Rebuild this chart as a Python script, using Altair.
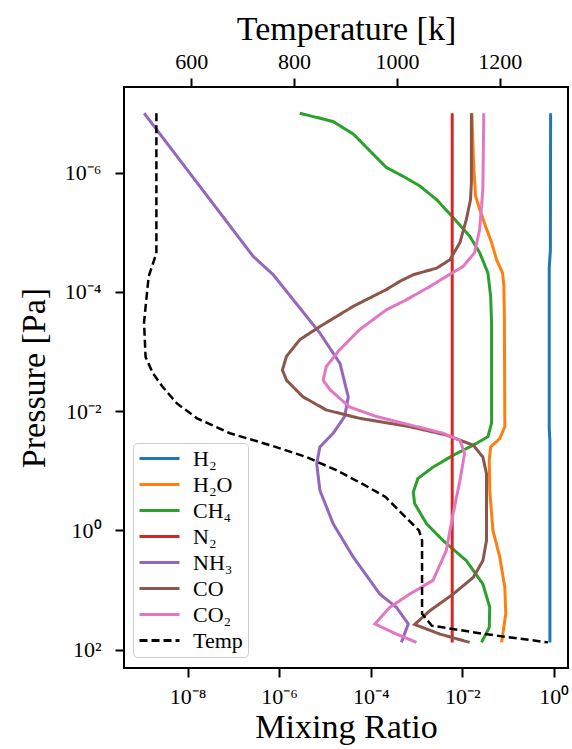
import altair as alt
import pandas as pd

# Each profile is stored as log10(pressure / Pa) with log10(mixing ratio),
# or with temperature in K for the thermal profile.
h2_logp = [-7.0, -4.7, -4.4, -1.7, -1.5, 1.88]
h2_logx = [-0.07, -0.075, -0.10, -0.10, -0.085, -0.085]

h2o_logp = [-7.0, -6.11, -5.61, -5.39, -5.10, -4.83, -4.54, -4.32, -4.09, -3.53,
            -1.74, -1.54, -1.40, -1.18, -0.67, 0.0, 0.45, 0.96, 1.40, 1.88]
h2o_logx = [-1.79, -1.75, -1.71, -1.62, -1.49, -1.36, -1.25, -1.12, -1.09, -1.08,
            -1.07, -1.18, -1.38, -1.41, -1.40, -1.33, -1.18, -1.07, -1.05, -1.14]

ch4_logp = [-7.0, -6.86, -6.65, -6.09, -5.94, -5.78, -5.55, -5.25, -4.94, -4.66,
            -4.32, -3.93, -3.48, -1.80, -1.57, -1.43, -1.26, -1.06, -0.87, -0.64,
            -0.45, -0.11, 0.17, 0.51, 0.90, 1.29, 1.63, 1.88]
ch4_logx = [-5.55, -4.82, -4.38, -3.66, -3.29, -2.93, -2.56, -2.20, -1.84, -1.62,
            -1.44, -1.38, -1.36, -1.36, -1.44, -1.76, -2.20, -2.64, -2.97, -3.07,
            -3.04, -2.78, -2.42, -1.91, -1.55, -1.40, -1.41, -1.58]

n2_logp = [-7.0, 1.88]
n2_logx = [-2.22, -2.22]

nh3_logp = [-7.0, -4.60, -4.29, -3.31, -2.80, -2.36, -2.24, -1.91, -1.63, -1.40,
            -1.12, -0.67, -0.11, 0.45, 1.07, 1.29, 1.57, 1.88]
nh3_logx = [-8.95, -6.57, -6.13, -5.11, -4.67, -4.53, -4.49, -4.57, -4.82, -5.11,
            -5.18, -5.11, -4.82, -4.38, -3.80, -3.44, -3.18, -3.33]

co_logp = [-7.0, -5.84, -5.55, -5.22, -4.83, -4.54, -4.40, -4.29, -4.18, -4.04,
           -3.76, -3.42, -3.20, -2.92, -2.69, -2.52, -2.24, -2.02, -1.88, -1.74,
           -1.60, -1.43, -1.23, -0.95, 0.17, 0.51, 0.79, 1.07, 1.35, 1.58, 1.74, 1.88]
co_logx = [-1.80, -1.80, -1.82, -1.91, -2.05, -2.27, -2.56, -3.07, -3.36, -3.66,
           -4.38, -5.11, -5.55, -5.84, -5.93, -5.84, -5.48, -4.97, -4.24, -3.15,
           -2.35, -1.76, -1.55, -1.47, -1.47, -1.55, -1.76, -2.20, -2.71, -3.04, -2.49, -1.84]

co2_logp = [-7.0, -5.72, -5.05, -4.66, -4.43, -4.26, -4.09, -3.87, -3.70, -3.37,
            -3.03, -2.75, -2.52, -2.36, -2.07, -1.91, -1.77, -1.63, -1.51, -1.29,
            -0.84, -0.28, 0.34, 0.84, 1.07, 1.29, 1.57, 1.74, 1.88]
co2_logx = [-1.53, -1.55, -1.62, -1.73, -1.98, -2.35, -2.71, -3.22, -3.66, -4.24,
            -4.68, -4.97, -5.04, -4.89, -4.46, -3.87, -3.15, -2.42, -2.05, -1.95,
            -2.05, -2.20, -2.35, -2.64, -3.15, -3.58, -3.91, -3.44, -3.00]

temp_logp = [-7.0, -4.65, -4.26, -3.75, -3.49, -2.91, -2.64, -2.41, -2.13, -1.88,
             -1.63, -1.43, -1.23, -1.01, -0.78, -0.56, -0.22, 0.0, 0.17, 1.40,
             1.60, 1.74, 1.88]
temp_k = [532, 532, 517, 511, 508, 511, 525, 544, 572, 611,
          675, 753, 824, 882, 933, 978, 1017, 1043, 1049, 1049,
          1068, 1171, 1294]

species = ["H₂", "H₂O", "CH₄", "N₂", "NH₃", "CO", "CO₂"]
profiles = [(h2_logp, h2_logx), (h2o_logp, h2o_logx), (ch4_logp, ch4_logx),
            (n2_logp, n2_logx), (nh3_logp, nh3_logx), (co_logp, co_logx),
            (co2_logp, co2_logx)]
names = species + ["Temp"]
colors = ["#1f77b4", "#ff7f0e", "#2ca02c", "#d62728", "#9467bd", "#8c564b",
          "#e377c2", "#000000"]
dashes = [[1, 0]] * 7 + [[8, 4]]

FONT = "Liberation Serif"

legend = alt.Legend(
    title=None, orient="none", legendX=9, legendY=356,
    symbolType="stroke", symbolSize=1600, symbolStrokeWidth=3,
    labelFont=FONT, labelFontSize=22, labelColor="black", labelOffset=12,
    fillColor="white", strokeColor="#cccccc", cornerRadius=4, padding=5,
    rowPadding=3, clipHeight=21,
)
color = alt.Color("species:N", scale=alt.Scale(domain=names, range=colors), legend=legend)
dash = alt.StrokeDash("species:N", scale=alt.Scale(domain=names, range=dashes), legend=legend)

y_enc = alt.Y(
    "p:Q",
    scale=alt.Scale(type="log", domain=[10 ** -7.44, 10 ** 2.31], reverse=True, nice=False),
    axis=alt.Axis(
        values=[1e-6, 1e-4, 1e-2, 1, 1e2],
        labelExpr="datum.value < 1e-5 ? '10⁻⁶' : datum.value < 1e-3 ? '10⁻⁴' : "
                  "datum.value < 0.1 ? '10⁻²' : datum.value < 10 ? '10⁰' : '10²'",
        title="Pressure [Pa]", labelPadding=14, titlePadding=13,
    ),
)
x_scale = alt.Scale(type="log", domain=[10 ** -9.39, 10 ** 0.31], nice=False)
x_axis = alt.Axis(
    values=[1e-8, 1e-6, 1e-4, 1e-2, 1],
    labelExpr="datum.value < 1e-7 ? '10⁻⁸' : datum.value < 1e-5 ? '10⁻⁶' : "
              "datum.value < 1e-3 ? '10⁻⁴' : datum.value < 0.1 ? '10⁻²' : '10⁰'",
    title="Mixing Ratio", labelPadding=9, titlePadding=3,
)

layers = []
for name, (logp, logx) in zip(species, profiles):
    df = pd.DataFrame({
        "p": [10.0 ** v for v in logp],
        "x": [10.0 ** v for v in logx],
        "i": list(range(len(logp))),
        "species": name,
    })
    layers.append(
        alt.Chart(df).mark_line(strokeWidth=3).encode(
            x=alt.X("x:Q", scale=x_scale, axis=x_axis),
            y=y_enc, order="i:Q", color=color, strokeDash=dash,
        )
    )

temp_df = pd.DataFrame({
    "p": [10.0 ** v for v in temp_logp],
    "T": temp_k,
    "i": list(range(len(temp_k))),
    "species": "Temp",
})
temp_layer = alt.Chart(temp_df).mark_line(strokeWidth=2.5).encode(
    x=alt.X(
        "T:Q",
        scale=alt.Scale(domain=[469, 1333], nice=False, zero=False),
        axis=alt.Axis(orient="top", values=[600, 800, 1000, 1200], format="d",
                      title="Temperature [k]", labelPadding=5, titlePadding=4),
    ),
    y=y_enc, order="i:Q", color=color, strokeDash=dash,
)

chart = (
    alt.layer(alt.layer(*layers), temp_layer)
    .resolve_scale(x="independent")
    .properties(
        width=444, height=581,
        background="white",
        autosize=alt.AutoSizeParams(type="none"),
        padding={"left": 124, "top": 87, "right": 4, "bottom": 81},
    )
    .configure_view(stroke="black", strokeWidth=2)
    .configure_axis(
        labelFont=FONT, titleFont=FONT, labelFontSize=22, titleFontSize=34,
        titleFontWeight="normal", labelColor="black", titleColor="black",
        tickColor="black", tickWidth=2, tickSize=9, domain=False, grid=False,
    )
)

chart.save("out.html", embed_options={"renderer": "svg", "actions": False})
